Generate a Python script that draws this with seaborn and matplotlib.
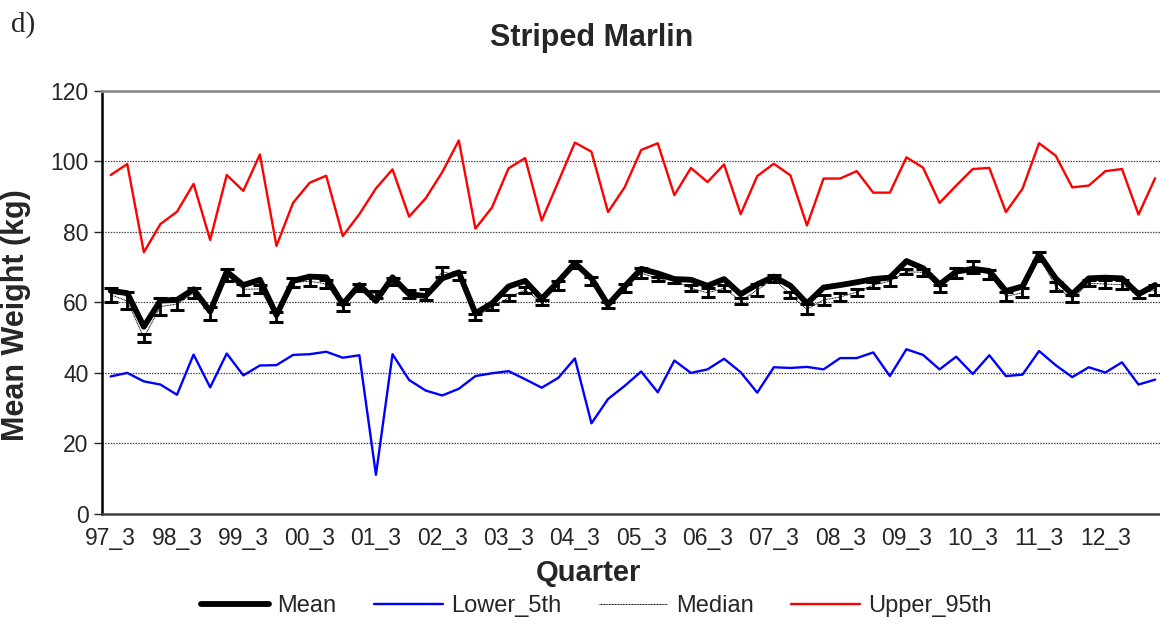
import numpy as np, pandas as pd
import seaborn as sns, matplotlib.pyplot as plt
from matplotlib.ticker import MultipleLocator, FixedLocator

# quarters 97_3 .. 13_2
quarters = [f"{(y % 100):02d}_{q}" for y in range(1997, 2014) for q in range(1, 5)][2:66]
tick_labels = quarters[::4]

mean_w = [63.3, 62.6, 53.1, 60.5, 60.7, 63.7, 57.4, 68.7, 64.9, 66.4, 56.4, 66.1, 67.3, 67.1, 59.5, 64.9,
          60.4, 67.1, 62.3, 61.8, 66.8, 68.5, 56.9, 59.7, 64.5, 66.1, 61.0, 65.9, 71.1, 66.8, 59.3, 64.5,
          69.5, 68.2, 66.6, 66.4, 64.7, 66.6, 62.3, 65.1, 67.3, 64.7, 59.7, 64.2, 64.9, 65.7, 66.6, 67.0,
          71.7, 69.7, 65.1, 68.7, 69.5, 68.9, 63.2, 64.5, 73.6, 66.8, 62.3, 66.8, 67.0, 66.8, 62.3, 64.9]
median_w = [62.1, 60.4, 50.0, 58.8, 59.5, 62.6, 56.9, 67.8, 63.7, 63.8, 55.8, 65.6, 66.0, 65.2, 58.5, 64.2,
            62.3, 66.0, 62.4, 62.2, 68.7, 67.5, 55.9, 58.6, 61.3, 63.5, 60.0, 64.8, 70.7, 66.0, 59.3, 64.0,
            68.3, 66.7, 66.2, 64.0, 62.7, 64.0, 60.4, 63.5, 66.7, 62.1, 58.0, 60.7, 61.5, 62.9, 64.9, 66.0,
            68.7, 68.5, 64.0, 68.2, 69.9, 67.9, 61.7, 62.7, 73.0, 64.5, 61.1, 65.4, 65.2, 65.0, 62.3, 63.5]
median_err = [2.1, 2.4, 1.1, 2.4, 1.7, 1.4, 1.9, 1.7, 1.5, 1.2, 1.5, 1.2, 1.3, 1.2, 1.0, 1.0,
              1.0, 1.0, 1.1, 1.5, 1.4, 1.2, 0.9, 0.8, 0.9, 0.9, 0.8, 1.3, 0.9, 1.2, 0.8, 1.2,
              1.4, 0.6, 0.7, 0.9, 1.3, 0.9, 0.9, 1.6, 1.0, 0.9, 1.4, 1.4, 1.1, 1.0, 0.8, 1.3,
              0.8, 1.0, 1.0, 1.4, 1.7, 1.3, 1.3, 1.3, 1.2, 1.3, 1.0, 0.9, 1.2, 1.2, 1.0, 1.5]
lower_5th = [39.0, 40.0, 37.6, 36.7, 33.8, 45.2, 35.9, 45.5, 39.3, 42.1, 42.2, 45.1, 45.3, 46.0, 44.3, 45.0,
             11.1, 45.3, 38.0, 35.0, 33.6, 35.5, 39.1, 39.9, 40.5, 38.2, 35.8, 38.6, 44.1, 25.7, 32.6, 36.3,
             40.4, 34.5, 43.5, 40.0, 41.0, 44.0, 40.2, 34.4, 41.6, 41.4, 41.7, 41.0, 44.2, 44.2, 45.8, 39.1,
             46.7, 45.1, 41.0, 44.6, 39.7, 45.0, 39.1, 39.5, 46.2, 42.2, 38.8, 41.6, 40.1, 43.0, 36.7, 38.1]
upper_95th = [96.1, 99.2, 74.2, 82.2, 85.7, 93.6, 77.7, 96.1, 91.6, 101.9, 76.0, 88.2, 93.9, 95.9, 78.8, 85.0,
              92.3, 97.7, 84.3, 89.5, 96.9, 105.9, 80.9, 86.9, 98.0, 100.9, 83.2, 94.2, 105.3, 102.7, 85.6, 92.6,
              103.2, 105.1, 90.4, 98.1, 94.1, 99.1, 85.0, 95.8, 99.3, 96.0, 81.8, 95.1, 95.1, 97.2, 91.1, 91.1,
              101.1, 98.2, 88.2, 93.1, 97.8, 98.1, 85.6, 92.2, 105.1, 101.6, 92.6, 93.1, 97.2, 97.8, 84.9, 95.2]

df = pd.DataFrame({"idx": np.arange(len(quarters)), "Quarter": quarters, "Mean": mean_w,
                   "Median": median_w, "err": median_err, "Lower_5th": lower_5th, "Upper_95th": upper_95th})

sns.set_style("white")
plt.rcParams['font.family'] = ['Liberation Sans', 'DejaVu Sans']

fig = plt.figure(figsize=(11.6, 6.26), dpi=100)
ax = fig.add_axes([102.4/1160, 1-514/626, 1061/1160, 423.3/626])

sns.lineplot(data=df, x="idx", y="Mean", ax=ax, color="black", lw=4.2, label="Mean", zorder=4)
sns.lineplot(data=df, x="idx", y="Lower_5th", ax=ax, color="#0000ff", lw=1.7, label="Lower_5th", zorder=3)
sns.lineplot(data=df, x="idx", y="Median", ax=ax, color="black", lw=0.7, ls=(0, (1, 0.6)), label="Median", zorder=5)
sns.lineplot(data=df, x="idx", y="Upper_95th", ax=ax, color="#ff0000", lw=1.7, label="Upper_95th", zorder=3)
ax.errorbar(df["idx"], df["Median"], yerr=df["err"], fmt="none", ecolor="black",
            elinewidth=2, capsize=5, capthick=2.2, zorder=6)

ax.set_xlim(-0.5, len(quarters) - 0.5)
ax.set_ylim(0, 120)
ax.yaxis.set_major_locator(MultipleLocator(20))
ax.set_xticks(range(0, len(quarters), 4))
ax.set_xticklabels(tick_labels)
ax.xaxis.set_minor_locator(FixedLocator(np.arange(-0.5, len(quarters), 1)))
ax.tick_params(axis="x", which="major", length=0, pad=9, labelsize=16.5)
ax.tick_params(axis="x", which="minor", length=6, width=1, color="#404040", direction="out")
ax.tick_params(axis="y", length=6, width=1, direction="out", labelsize=16.5, pad=4)
ax.tick_params(left=True, bottom=True)
for y in range(20, 120, 20):
    ax.axhline(y, color="#444444", lw=0.9, ls=(0, (1.2, 1)), zorder=1)

ax.spines["left"].set_color("black"); ax.spines["left"].set_linewidth(1.8)
ax.spines["bottom"].set_color("#404040"); ax.spines["bottom"].set_linewidth(1.8)
ax.spines["top"].set_color("#8c8c8c"); ax.spines["top"].set_linewidth(2)
ax.spines["right"].set_visible(False)
ax.set_xlabel(""); ax.set_ylabel("")

fig.text(11/1160, 1-11/626, "d)", family="Liberation Serif", fontsize=21, va="top", ha="left")
fig.text(592/1160, 1-38/626, "Striped Marlin", fontsize=22, fontweight="bold", ha="center", va="center")
fig.text(588/1160, 1-573/626, "Quarter", fontsize=21, fontweight="bold", ha="center", va="center")
fig.text(16/1160, 1-315/626, "Mean Weight (kg)", fontsize=22, fontweight="bold", rotation=90,
         ha="center", va="center")

ax.get_legend().remove()
h, l = ax.get_legend_handles_labels()
fig.legend(h[:4], l[:4], loc="center", bbox_to_anchor=(596/1160, 1-606/626), ncol=4, frameon=False,
           fontsize=17, handlelength=2.9, columnspacing=1.6, handletextpad=0.35)

fig.savefig("out.png", dpi=100)
